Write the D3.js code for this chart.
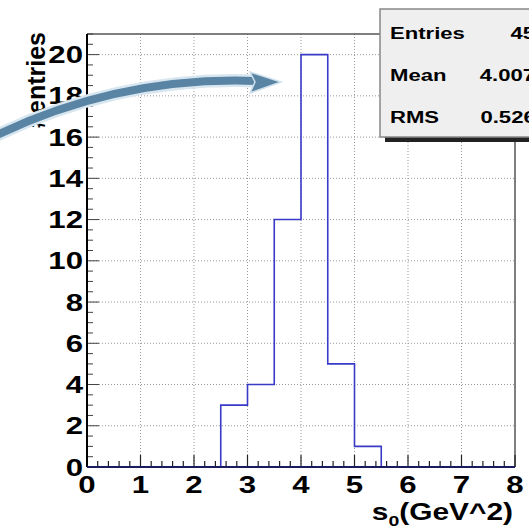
<!DOCTYPE html>
<html>
<head>
<meta charset="utf-8">
<script src="https://cdn.jsdelivr.net/npm/d3@7"></script>
<style>
  body { margin: 0; background: #fff; }
  text { font-family: "Liberation Sans", Arial, sans-serif; font-weight: bold; }
</style>
</head>
<body>
<div id="chart"></div>
<script>
// histogram content, bin width 0.5
var binLow = [2.5, 3.0, 3.5, 4.0, 4.5, 5.0];
var binCounts = [3, 4, 12, 20, 5, 1];
var binWidth = 0.5;
var xTicks = [0, 1, 2, 3, 4, 5, 6, 7, 8];
var yTicks = [0, 2, 4, 6, 8, 10, 12, 14, 16, 18, 20];
var statNames = ["Entries", "Mean", "RMS"];
var statValues = ["45", "4.007", "0.5267"];

var W = 529, H = 532;
var padL = 87, padR = 515, padT = 34, padB = 467;
var stretch = 1.3; // the picture is a bit wide

const svg = d3.select("#chart").append("svg")
  .attr("width", W).attr("height", H);

var x = d3.scaleLinear().domain([0, 8]).range([padL, padR]);
var y = d3.scaleLinear().domain([0, 21]).range([padB, padT]);

// grid (dotted)
svg.append("g").selectAll("line").data(xTicks.slice(1, -1)).enter().append("line")
  .attr("x1", d => x(d)).attr("x2", d => x(d))
  .attr("y1", padT).attr("y2", padB)
  .attr("stroke", "#999").attr("stroke-dasharray", "1,2");
svg.append("g").selectAll("line").data(yTicks.slice(1)).enter().append("line")
  .attr("x1", padL).attr("x2", padR)
  .attr("y1", d => y(d)).attr("y2", d => y(d))
  .attr("stroke", "#999").attr("stroke-dasharray", "1,2");

// frame top/right
svg.append("path")
  .attr("d", "M" + padL + "," + padT + "H" + padR + "V" + padB)
  .attr("fill", "none").attr("stroke", "#555").attr("stroke-width", 1.5);

// minor + major ticks
var xMinor = d3.range(0, 8.001, 0.2);
svg.append("g").selectAll("line").data(xMinor).enter().append("line")
  .attr("x1", d => x(d)).attr("x2", d => x(d))
  .attr("y1", padB)
  .attr("y2", d => Math.abs(d - Math.round(d)) < 1e-6 ? padB - 12 : padB - 6)
  .attr("stroke", "#222").attr("stroke-width", 1.2);
var yMinor = d3.range(0, 21.001, 0.5);
svg.append("g").selectAll("line").data(yMinor).enter().append("line")
  .attr("y1", d => y(d)).attr("y2", d => y(d))
  .attr("x1", padL)
  .attr("x2", d => (d % 2 === 0) ? padL + 12 : padL + 6)
  .attr("stroke", "#444").attr("stroke-width", 1);

// histogram outline: just the outer steps, like ROOT draws it
var pts = [[0, 0], [binLow[0], 0]];
binLow.forEach(function (b, i) {
  pts.push([b, binCounts[i]]);
  pts.push([b + binWidth, binCounts[i]]);
});
pts.push([binLow[binLow.length - 1] + binWidth, 0]);
pts.push([8, 0]);
var line = d3.line().x(d => x(d[0])).y(d => y(d[1]));
svg.append("path").datum(pts)
  .attr("d", line)
  .attr("fill", "none").attr("stroke", "#3a3ac8").attr("stroke-width", 1.6);

// axes
svg.append("line").attr("x1", padL).attr("x2", padL).attr("y1", padT).attr("y2", padB)
  .attr("stroke", "#000").attr("stroke-width", 2);
svg.append("line").attr("x1", padL).attr("x2", padR).attr("y1", padB).attr("y2", padB)
  .attr("stroke", "#1a1a60").attr("stroke-width", 2);

// tick labels
svg.append("g").selectAll("text").data(yTicks).enter().append("text")
  .attr("transform", d => "translate(83," + (y(d) + 8.5) + ") scale(" + stretch + ",1)")
  .attr("text-anchor", "end")
  .attr("font-size", 24)
  .text(d => d);
svg.append("g").selectAll("text").data(xTicks).enter().append("text")
  .attr("transform", d => "translate(" + x(d) + ",493) scale(" + stretch + ",1)")
  .attr("text-anchor", "middle")
  .attr("font-size", 24)
  .text(d => d);

// axis titles
var xt = svg.append("text")
  .attr("transform", "translate(513,520) scale(1.3,1)")
  .attr("text-anchor", "end")
  .attr("font-size", 23);
xt.append("tspan").text("s");
xt.append("tspan").attr("font-size", 15).attr("dy", 6).text("0");
xt.append("tspan").attr("dy", -6).text("(GeV^2)");

svg.append("text")
  .attr("transform", "translate(45,32) rotate(-90)")
  .attr("text-anchor", "end")
  .attr("font-size", 25)
  .text("#entries");

// stats box (runs off the right edge, as in the original)
var sx = 380, sy = 9, sw = 170, sh = 128;
svg.append("rect").attr("x", sx + 5).attr("y", sy + 5).attr("width", sw).attr("height", sh)
  .attr("fill", "#222");
svg.append("rect").attr("x", sx).attr("y", sy).attr("width", sw).attr("height", sh)
  .attr("fill", "#efefef").attr("stroke", "#888").attr("stroke-width", 1.5);
var sY = d3.scalePoint().domain(statNames).range([sy + 33, sy + 117]);
var valueEnd = [535, 535, 548];
svg.append("g").selectAll("text").data(statNames).enter().append("text")
  .attr("transform", d => "translate(390," + (sY(d) - 3) + ") scale(1.3,1)")
  .attr("font-size", 17)
  .text(d => d);
svg.append("g").selectAll("text").data(statValues).enter().append("text")
  .attr("transform", (d, i) => "translate(" + valueEnd[i] + "," + (sY(statNames[i]) - 3) + ") scale(1.3,1)")
  .attr("text-anchor", "end")
  .attr("font-size", 17)
  .text(d => d);

// the curved arrow pointing at the peak
var arrow = svg.append("g");
var shaft = "M-5,136 Q120,76 256,81";
arrow.append("path").attr("d", shaft)
  .attr("fill", "none").attr("stroke", "#d8e6f0").attr("stroke-width", 13);
arrow.append("path").attr("d", shaft)
  .attr("fill", "none").attr("stroke", "#5a84a4").attr("stroke-width", 8);
arrow.append("path")
  .attr("d", "M281,82 L250,72 L255,82 L250,93 Z")
  .attr("fill", "#5a84a4").attr("stroke", "#cfe0ec").attr("stroke-width", 1.5);
</script>
</body>
</html>
